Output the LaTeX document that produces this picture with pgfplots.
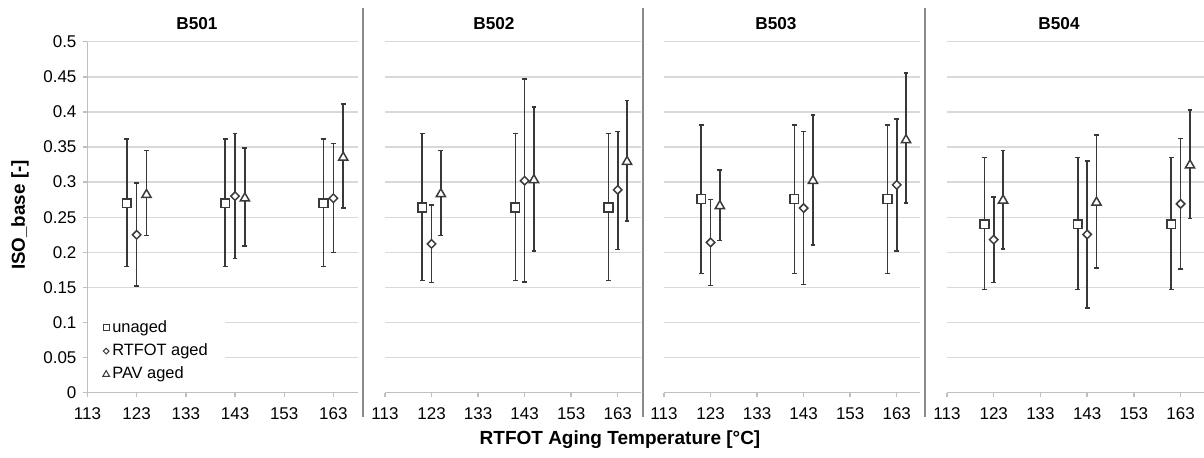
\documentclass[border=0pt]{standalone}
\usepackage{pgfplots}
\pgfplotsset{compat=1.18}
\usepackage{fontspec}
\setmainfont{Liberation Sans}
\definecolor{markdark}{HTML}{3A3A3A}
\definecolor{bardark}{HTML}{383838}
\definecolor{gridgray}{HTML}{D9D9D9}
\definecolor{axisgray}{HTML}{BFBFBF}
\definecolor{sepgray}{HTML}{8A8A8A}
\pgfplotsset{
  panel/.style={
    scale only axis, height=175.5pt, anchor=south west,
    xmin=113, xmax=168, ymin=0, ymax=0.5,
    xtick={113,123,133,143,153,163},
    ytick={0,0.05,0.1,0.15,0.2,0.25,0.3,0.35,0.4,0.45,0.5},
    scaled ticks=false,
    ymajorgrids, major grid style={line width=0.7pt, color=gridgray},
    axis x line=bottom, axis y line=left,
    axis line style={-, line width=0.7pt, color=axisgray},
    tick style={line width=0.7pt, color=axisgray},
    tick align=outside, major tick length=2pt,
    tick label style={font=\fontsize{8.5}{10}\selectfont, text=black},
    xticklabel style={yshift=-1.8pt},
    /pgf/number format/fixed, /pgf/number format/precision=2,
    /pgf/number format/assume math mode=true,
    clip=false,
  },
  noy/.style={y axis line style={draw=none}, ytick style={draw=none}, yticklabels={}},
  ebar/.style={error bars/y dir=both, error bars/y explicit,
    error bars/error bar style={line width=0.8pt, color=bardark},
    error bars/error mark options={rotate=90, line width=0.8pt, mark size=1.2pt, color=bardark}},
  unaged/.style={only marks, mark=square*, mark size=2.2pt,
    mark options={fill=white, draw=markdark, line width=0.75pt}, ebar},
  rtfot/.style={only marks, mark=square*, mark size=1.5pt,
    mark options={rotate=45, fill=white, draw=markdark, line width=0.75pt}, ebar},
  pav/.style={only marks, mark=triangle*, mark size=2.65pt,
    mark options={fill=white, draw=markdark, line width=0.75pt}, ebar},
}
\begin{document}
\begin{tikzpicture}
\useasboundingbox (0,0) rectangle (602pt,228.5pt);
% ---------- B501 ----------
\begin{axis}[panel, width=135.25pt, at={(43.75pt,32.15pt)},
  legend style={draw=none, fill=white, at={(0,0.01)}, anchor=south west,
    inner xsep=7.5pt, inner ysep=3pt, font=\fontsize{8.2}{9.5}\selectfont,
    row sep=3.2pt, nodes={inner xsep=1.4pt, inner ysep=0.5pt}},
  legend cell align=left,
  legend image code/.code={\draw[#1] plot coordinates {(0pt,0pt)};}]
\addplot[unaged, forget plot] coordinates {(121,0.270) +=(0,0.091) -=(0,0.090) (141,0.270) +=(0,0.091) -=(0,0.090) (161,0.270) +=(0,0.091) -=(0,0.090)};
\addplot[rtfot, forget plot] coordinates {(123,0.225) +=(0,0.074) -=(0,0.073) (143,0.280) +=(0,0.089) -=(0,0.089) (163,0.277) +=(0,0.078) -=(0,0.077)};
\addplot[pav, forget plot] coordinates {(125,0.282) +=(0,0.063) -=(0,0.058) (145,0.277) +=(0,0.072) -=(0,0.068) (165,0.335) +=(0,0.076) -=(0,0.072)};
\addlegendimage{only marks, mark=square*, mark size=1.5pt, mark options={fill=white, draw=markdark, line width=0.5pt}}
\addlegendentry{unaged}
\addlegendimage{only marks, mark=square*, mark size=1.0pt, mark options={rotate=45, fill=white, draw=markdark, line width=0.5pt}}
\addlegendentry{RTFOT aged}
\addlegendimage{only marks, mark=triangle*, mark size=1.9pt, mark options={fill=white, draw=markdark, line width=0.5pt}}
\addlegendentry{PAV aged}
\end{axis}
% ---------- B502 ----------
\begin{axis}[panel, noy, width=128pt, at={(192.5pt,32.15pt)}]
\addplot[unaged] coordinates {(121,0.264) +=(0,0.105) -=(0,0.104) (141,0.264) +=(0,0.105) -=(0,0.104) (161,0.264) +=(0,0.105) -=(0,0.104)};
\addplot[rtfot] coordinates {(123,0.212) +=(0,0.055) -=(0,0.055) (143,0.302) +=(0,0.145) -=(0,0.144) (163,0.289) +=(0,0.083) -=(0,0.085)};
\addplot[pav] coordinates {(125,0.283) +=(0,0.062) -=(0,0.059) (145,0.303) +=(0,0.104) -=(0,0.101) (165,0.329) +=(0,0.087) -=(0,0.084)};
\end{axis}
% ---------- B503 ----------
\begin{axis}[panel, noy, width=128pt, at={(332pt,32.15pt)}]
\addplot[unaged] coordinates {(121,0.276) +=(0,0.105) -=(0,0.106) (141,0.276) +=(0,0.105) -=(0,0.106) (161,0.276) +=(0,0.105) -=(0,0.106)};
\addplot[rtfot] coordinates {(123,0.214) +=(0,0.061) -=(0,0.061) (143,0.263) +=(0,0.109) -=(0,0.109) (163,0.296) +=(0,0.094) -=(0,0.094)};
\addplot[pav] coordinates {(125,0.266) +=(0,0.051) -=(0,0.049) (145,0.302) +=(0,0.094) -=(0,0.092) (165,0.360) +=(0,0.095) -=(0,0.090)};
\end{axis}
% ---------- B504 ----------
\begin{axis}[panel, noy, width=128.5pt, at={(473.5pt,32.15pt)}]
\addplot[unaged] coordinates {(121,0.240) +=(0,0.095) -=(0,0.093) (141,0.240) +=(0,0.095) -=(0,0.093) (161,0.240) +=(0,0.095) -=(0,0.093)};
\addplot[rtfot] coordinates {(123,0.218) +=(0,0.061) -=(0,0.061) (143,0.2255) +=(0,0.1045) -=(0,0.1045) (163,0.269) +=(0,0.093) -=(0,0.093)};
\addplot[pav] coordinates {(125,0.274) +=(0,0.071) -=(0,0.069) (145,0.271) +=(0,0.096) -=(0,0.093) (165,0.324) +=(0,0.079) -=(0,0.076)};
\end{axis}
% separators
\draw[sepgray, line width=1pt] (181.35pt,20pt) -- (181.35pt,224.5pt);
\draw[sepgray, line width=1pt] (321.35pt,20pt) -- (321.35pt,224.5pt);
\draw[sepgray, line width=1pt] (462.5pt,20pt) -- (462.5pt,224.5pt);
% titles
\begin{scope}[every node/.style={font=\fontsize{8.6}{10}\selectfont\bfseries, inner sep=0pt}]
\node at (98.5pt,216.5pt) {B501};
\node at (247pt,216.5pt) {B502};
\node at (388pt,216.5pt) {B503};
\node at (529.5pt,216.5pt) {B504};
\end{scope}
\node[rotate=90, font=\fontsize{9.4}{11}\selectfont\bfseries, inner sep=0pt] at (10pt,121pt) {ISO\_base [-]};
\node[font=\fontsize{9.5}{11}\selectfont\bfseries, inner sep=0pt] at (310pt,8.5pt) {RTFOT Aging Temperature [°C]};
\end{tikzpicture}
\end{document}
